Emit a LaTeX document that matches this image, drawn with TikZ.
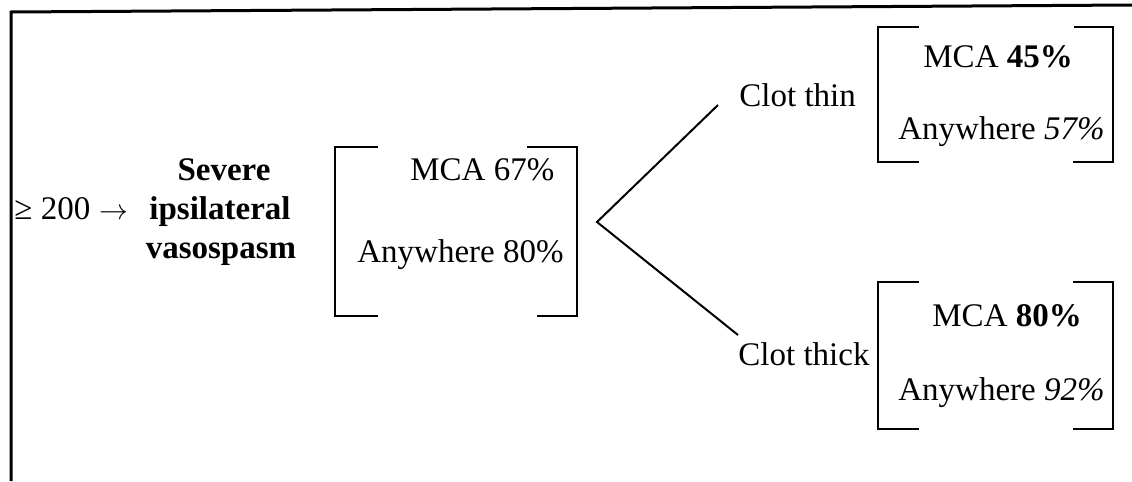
\documentclass[tikz,border=0pt]{standalone}
\usepackage{fontspec}
\setmainfont{Liberation Serif}
\begin{document}
\begin{tikzpicture}[x=0.5pt,y=-0.5pt,
  txt/.style={inner sep=0pt,font=\fontsize{16.5}{19.5}\selectfont},
  lt/.style={txt,anchor=base west},
  ct/.style={txt,anchor=base},
  brk/.style={line width=1.2pt,line cap=rect},
  frame/.style={line width=1.5pt},
  branch/.style={line width=1pt}]
\useasboundingbox (0,0) rectangle (1132,482);
% frame
\coordinate (fb) at (11,481);
\coordinate (fc) at (11,12);
\coordinate (fr) at (1132,5);
\draw[frame] (fb) -- (fc) -- (fr);
% left text
\node[lt] (ge) at (14,219) {≥ 200};
\node[lt] (arr) at (99,219) {\fontsize{14}{14}\selectfont$\rightarrow$};
\node[ct] (sev1) at (224,180) {\textbf{Severe}};
\node[ct] (sev2) at (220,219) {\textbf{ipsilateral}};
\node[ct] (sev3) at (221,258) {\textbf{vasospasm}};
% main bracket
\draw[brk] (377,147) -- (335,147) -- (335,316) -- (377,316);
\draw[brk] (528,147) -- (577,147) -- (577,316) -- (538,316);
\node[lt] (m1) at (410,180) {MCA 67\%};
\node[lt] (m2) at (357,262) {Anywhere 80\%};
% branches
\coordinate (vtx) at (597,222);
\coordinate (up) at (718,105);
\coordinate (dn) at (738,335);
\draw[branch] (up) -- (vtx) -- (dn);
\node[lt] (thin) at (739,106) {Clot thin};
\node[lt] (thick) at (738,365) {Clot thick};
% top-right bracket
\draw[brk] (918,27) -- (878,27) -- (878,162) -- (918,162);
\draw[brk] (1075,27) -- (1113,27) -- (1113,162) -- (1074,162);
\node[lt] (t1) at (923,68) {MCA \textbf{45\%}};
\node[lt] (t2) at (898,140) {Anywhere \textit{57\%}};
% bottom-right bracket
\draw[brk] (918,282) -- (878,282) -- (878,429) -- (918,429);
\draw[brk] (1074,282) -- (1113,282) -- (1113,429) -- (1074,429);
\node[lt] (b1) at (932,326) {MCA \textbf{80\%}};
\node[lt] (b2) at (898,400) {Anywhere \textit{92\%}};
\end{tikzpicture}
\end{document}
